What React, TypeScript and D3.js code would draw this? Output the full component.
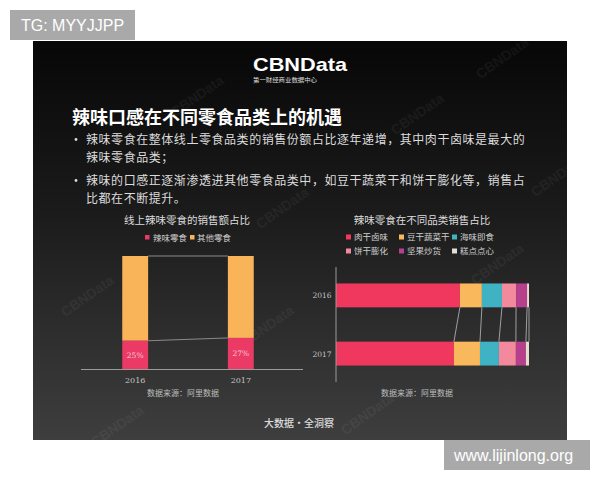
import React from "react";
import * as d3 from "d3";

// ---------- data ----------
const leftYears = ["2016", "2017"];
const spicyShare = [25, 27.5];
const spicyLabels = ["25%", "27%"];
const leftLegend = ["辣味零食", "其他零食"];

const rightYears = ["2016", "2017"];
const categories = ["肉干卤味", "豆干蔬菜干", "海味即食", "饼干膨化", "坚果炒货", "糕点点心"];
const share2016 = [64.2, 11.4, 10.4, 7.3, 5.7, 1.0];
const share2017 = [61.1, 13.5, 9.8, 8.8, 5.2, 1.6];

const bullets = [
  ["辣味零食在整体线上零食品类的销售份额占比逐年递增，其中肉干卤味是最大的", "辣味零食品类；"],
  ["辣味的口感正逐渐渗透进其他零食品类中，如豆干蔬菜干和饼干膨化等，销售占", "比都在不断提升。"],
];

const catColors = ["#F0385F", "#F9B85C", "#3FB3C4", "#F2899D", "#B6408B", "#E6DCCF"];
const leftColors = ["#EC3A66", "#F9B45A"];

const CJK = "'Noto Sans CJK SC', 'Noto Sans', sans-serif";

const watermarks: [number, number][] = [
  [505, 62], [200, 100], [90, 300], [285, 212], [270, 330], [500, 268], [120, 430], [370, 418], [420, 118], [560, 180],
];

export default function App() {
  // left chart scales
  const xL = d3.scaleBand<string>().domain(leftYears).range([80, 296]).paddingInner(0.755).paddingOuter(0.4);
  const yL = d3.scaleLinear().domain([0, 100]).range([369, 256]);

  // right chart scales
  const xR = d3.scaleLinear().domain([0, 100]).range([336, 529]);
  const yR = d3.scaleBand<string>().domain(rightYears).range([266, 383]).paddingInner(0.59).paddingOuter(0.3);

  const rightData = [share2016, share2017].map((arr) => {
    let acc = 0;
    return arr.map((v) => {
      const s = acc;
      acc += v;
      return [s, acc] as [number, number];
    });
  });

  const bw = xL.bandwidth();
  const bh = yR.bandwidth();

  return (
    <svg width={600} height={480} style={{ position: "absolute", left: 0, top: 0 }}>
      <defs>
        <linearGradient id="bg" x1="0" y1="0" x2="0" y2="1">
          <stop offset="0" stopColor="#070707" />
          <stop offset="0.45" stopColor="#1c1c1c" />
          <stop offset="1" stopColor="#3e3e3e" />
        </linearGradient>
      </defs>
      <rect x={0} y={0} width={600} height={480} fill="#ffffff" />
      <rect x={33} y={41} width={534} height={399} fill="url(#bg)" />

      {/* watermarks */}
      {watermarks.map(([x, y], i) => (
        <text
          key={i}
          x={x}
          y={y}
          transform={`rotate(-35 ${x} ${y})`}
          textAnchor="middle"
          fontFamily="'Liberation Sans', sans-serif"
          fontWeight="bold"
          fontSize={14}
          fill="#ffffff"
          opacity={0.045}
        >
          CBNData
        </text>
      ))}

      {/* logo */}
      <text x={253} y={71} fontFamily="'Liberation Sans', Arial, sans-serif" fontWeight="bold" fontSize={19} fill="#fff" textLength={94} lengthAdjust="spacingAndGlyphs">
        CBNData
      </text>
      <text x={253} y={82} fontFamily={CJK} fontSize={6.2} fill="#ddd" textLength={64} lengthAdjust="spacingAndGlyphs">
        第一财经商业数据中心
      </text>

      {/* title */}
      <text x={72} y={124} fontFamily={CJK} fontWeight="bold" fontSize={18} fill="#fff">
        辣味口感在不同零食品类上的机遇
      </text>
      {bullets.map((lines, i) => (
        <g key={i} fontFamily={CJK} fontSize={12} letterSpacing={0.55} fill="#dcdcdc">
          <circle cx={76} cy={[144, 185][i] - 4.5} r={1.4} fill="#dcdcdc" />
          {lines.map((l, j) => (
            <text key={j} x={86} y={[144, 185][i] + j * 17.6}>
              {l}
            </text>
          ))}
        </g>
      ))}

      {/* ---------- left chart ---------- */}
      <text x={187} y={224} textAnchor="middle" fontFamily={CJK} fontSize={10.5} fill="#dddddd">
        线上辣味零食的销售额占比
      </text>
      {leftLegend.map((name, i) => (
        <g key={name}>
          <rect x={145 + i * 45} y={235} width={4.5} height={4.5} fill={leftColors[i]} />
          <text x={153 + i * 44} y={240.5} fontFamily={CJK} fontSize={8.5} fill="#cfcfcf">
            {name}
          </text>
        </g>
      ))}
      {leftYears.map((yr, i) => (
        <g key={yr}>
          <rect x={xL(yr)} y={yL(100)} width={bw} height={yL(spicyShare[i]) - yL(100)} fill={leftColors[1]} />
          <rect x={xL(yr)} y={yL(spicyShare[i])} width={bw} height={yL(0) - yL(spicyShare[i])} fill={leftColors[0]} />
          <text
            x={(xL(yr) as number) + bw / 2}
            y={(yL(0) + yL(spicyShare[i])) / 2 + 3}
            textAnchor="middle"
            fontFamily="'DejaVu Serif', serif"
            fontSize={7.5}
            fill="#f7c9d4"
          >
            {spicyLabels[i]}
          </text>
          <text x={(xL(yr) as number) + bw / 2} y={383} textAnchor="middle" fontFamily="'DejaVu Serif', serif" fontSize={8} fill="#c4c4c4">
            {yr}
          </text>
        </g>
      ))}
      {/* connectors */}
      <line x1={(xL("2016") as number) + bw} y1={yL(100)} x2={xL("2017") as number} y2={yL(100)} stroke="#8a8a8a" strokeWidth={1} />
      <line x1={(xL("2016") as number) + bw} y1={yL(spicyShare[0])} x2={xL("2017") as number} y2={yL(spicyShare[1])} stroke="#8a8a8a" strokeWidth={1} />
      <line x1={81} y1={yL(0) + 0.5} x2={303} y2={yL(0) + 0.5} stroke="#9a9a9a" strokeWidth={1} />
      <text x={183} y={396} textAnchor="middle" fontFamily={CJK} fontSize={8} fill="#bdbdbd">
        数据来源：阿里数据
      </text>

      {/* ---------- right chart ---------- */}
      <text x={422} y={224} textAnchor="middle" fontFamily={CJK} fontSize={10.5} fill="#dddddd">
        辣味零食在不同品类销售占比
      </text>
      {categories.map((c, i) => {
        const col = i % 3;
        const row = Math.floor(i / 3);
        const lx = [346, 399, 452][col];
        const ly = 237 + row * 14;
        return (
          <g key={c}>
            <rect x={lx} y={ly - 2.5} width={5} height={5} fill={catColors[i]} />
            <text x={lx + 8} y={ly + 3} fontFamily={CJK} fontSize={8.5} fill="#cfcfcf">
              {c}
            </text>
          </g>
        );
      })}
      {rightYears.map((yr, r) => (
        <g key={yr}>
          {rightData[r].map(([s, e], i) => (
            <rect key={i} x={xR(s)} y={yR(yr)} width={xR(e) - xR(s)} height={bh} fill={catColors[i]} />
          ))}
          <text x={322} y={(yR(yr) as number) + bh / 2 + 3} textAnchor="middle" fontFamily="'DejaVu Serif', serif" fontSize={7.5} fill="#c4c4c4">
            {yr}
          </text>
        </g>
      ))}
      {rightData[0].map(([, e], i) => (
        <line
          key={i}
          x1={xR(e)}
          y1={(yR("2016") as number) + bh}
          x2={xR(rightData[1][i][1])}
          y2={yR("2017") as number}
          stroke="#bdbdbd"
          strokeWidth={0.8}
        />
      ))}
      <line x1={336} y1={267} x2={336} y2={382} stroke="#9a9a9a" strokeWidth={1} />
      <text x={417} y={396} textAnchor="middle" fontFamily={CJK} fontSize={8} fill="#bdbdbd">
        数据来源：阿里数据
      </text>

      {/* footer */}
      <text x={299} y={427} textAnchor="middle" fontFamily={CJK} fontWeight="500" fontSize={10} fill="#dddddd">
        大数据·全洞察
      </text>

      {/* overlay labels */}
      <rect x={10} y={10} width={125} height={30} fill="#a9a9a9" />
      <text x={21} y={31} fontFamily="'Liberation Sans', Arial, sans-serif" fontSize={16} fill="#ffffff">
        TG: MYYJJPP
      </text>
      <rect x={444} y={440} width={146} height={30} fill="#a9a9a9" />
      <text x={454} y={461} fontFamily="'Liberation Sans', Arial, sans-serif" fontSize={16} fill="#ffffff">
        www.lijinlong.org
      </text>
    </svg>
  );
}
